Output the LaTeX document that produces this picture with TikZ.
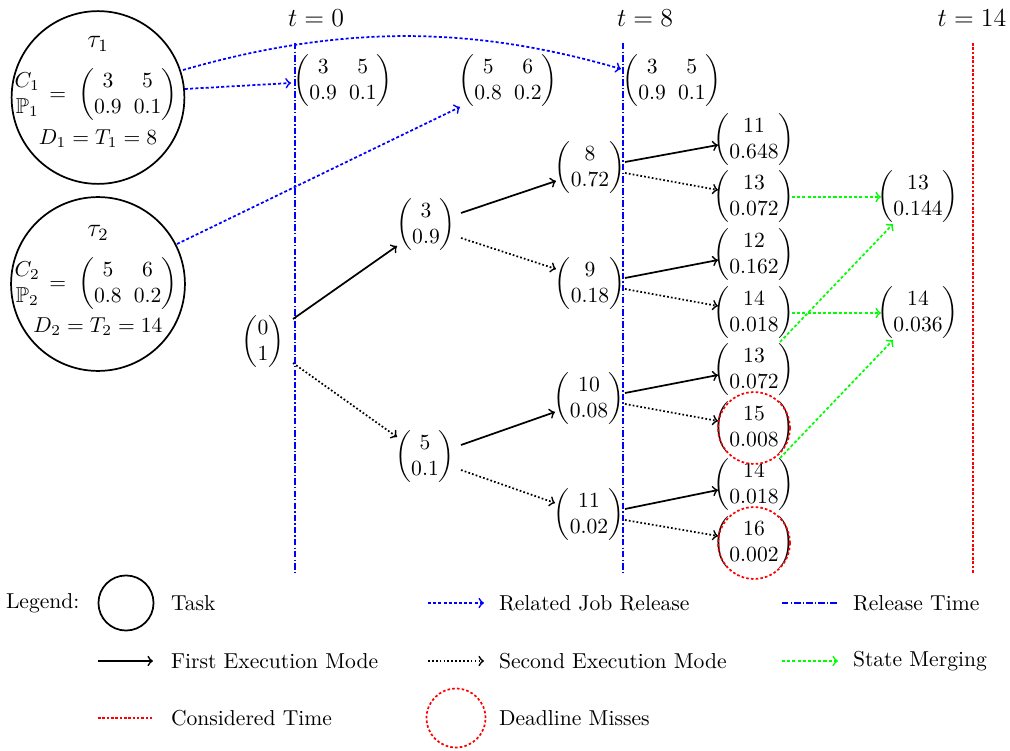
\documentclass[tikz,border=0pt]{standalone}
\usepackage{amsmath,amssymb}
\usetikzlibrary{calc}
\setlength{\arraycolsep}{2.8pt}
\newcommand\mypm[2]{$\begin{pmatrix}#1\\#2\end{pmatrix}$}
\begin{document}
\begin{tikzpicture}[x=0.463pt,y=-0.463pt,
  st/.style={inner sep=0pt, outer sep=0pt},
  txt/.style={anchor=west, inner sep=0pt, outer sep=0pt},
  first/.style={thick,->},
  second/.style={thick,densely dotted,->},
  rel/.style={thick,dash pattern=on 1.4pt off 1pt,blue,->},
  merge/.style={thick,dash pattern=on 1.4pt off 1pt,green,->},
  reltime/.style={semithick,densely dash dot,blue},
  cons/.style={thick,dash pattern=on 1.2pt off 0.8pt,red},
  task/.style={draw,thick,circle,inner sep=0pt},
  miss/.style={draw,red,thick,dash pattern=on 1.2pt off 1pt,circle,inner sep=0pt}]
\useasboundingbox (0,0) rectangle (1010,751);

% time lines
\coordinate (t0top) at (295,43); \coordinate (t0bot) at (295,573);
\coordinate (t8top) at (623,43); \coordinate (t8bot) at (623,573);
\coordinate (t14top) at (973,43); \coordinate (t14bot) at (973,573);
\draw[reltime] (t0top) -- (t0bot);
\draw[reltime] (t8top) -- (t8bot);
\draw[cons] (t14top) -- (t14bot);
\node (lt0) at (316,18) {\large $t=0$};
\node (lt8) at (645,18) {\large $t=8$};
\node (lt14) at (972,18) {\large $t=14$};

% tasks
\node[task,minimum size=80pt] (tau1) at (98,97.5) {};
\node[st] (tau1n) at (98,44) {\large $\tau_1$};
\node[st] (tau1m) at (96,95) {$\begin{matrix}C_1\\ \mathbb{P}_1\end{matrix}\,=\;\begin{pmatrix}3&5\\0.9&0.1\end{pmatrix}$};
\node[st] (tau1d) at (98,139) {$D_1=T_1=8$};

\node[task,minimum size=80.5pt] (tau2) at (98,284) {};
\node[st] (tau2n) at (98,233) {\large $\tau_2$};
\node[st] (tau2m) at (96,284) {$\begin{matrix}C_2\\ \mathbb{P}_2\end{matrix}\,=\;\begin{pmatrix}5&6\\0.8&0.2\end{pmatrix}$};
\node[st] (tau2d) at (98,327) {$D_2=T_2=14$};

% released jobs
\node[st] (m1) at (343,81) {$\begin{pmatrix}3&5\\0.9&0.1\end{pmatrix}$};
\node[st] (m2) at (508,81) {$\begin{pmatrix}5&6\\0.8&0.2\end{pmatrix}$};
\node[st] (m3) at (672,81) {$\begin{pmatrix}3&5\\0.9&0.1\end{pmatrix}$};

% tree
\node[st] (n0) at (263,342) {\mypm{0}{1}};
\node[st] (a) at (426,225) {\mypm{3}{0.9}};
\node[st] (b) at (425,457) {\mypm{5}{0.1}};
\node[st] (c1) at (590,168) {\mypm{8}{0.72}};
\node[st] (c2) at (590,284) {\mypm{9}{0.18}};
\node[st] (c3) at (589,399) {\mypm{10}{0.08}};
\node[st] (c4) at (589,515) {\mypm{11}{0.02}};
\node[st] (d1) at (754,140) {\mypm{11}{0.648}};
\node[st] (d2) at (754,197) {\mypm{13}{0.072}};
\node[st] (d3) at (754,255) {\mypm{12}{0.162}};
\node[st] (d4) at (754,313) {\mypm{14}{0.018}};
\node[st] (d5) at (754,370) {\mypm{13}{0.072}};
\node[st] (d6) at (754,428) {\mypm{15}{0.008}};
\node[st] (d7) at (754,485) {\mypm{14}{0.018}};
\node[st] (d8) at (754,543) {\mypm{16}{0.002}};
\node[st] (e1) at (918,197) {\mypm{13}{0.144}};
\node[st] (e2) at (918,313) {\mypm{14}{0.036}};
\node[miss,minimum size=33.3pt] (x1) at (d6) {};
\node[miss,minimum size=33.3pt] (x2) at (d8) {};

% edges
\draw[first] ($(n0)+(30,-23)$) -- ($(a)+(-29,21)$);
\draw[second] ($(n0)+(30,21)$) -- ($(b)+(-28,-20)$);
\draw[first] ($(a)+(35,-12)$) -- ($(c1)+(-34,13)$);
\draw[second] ($(a)+(35,13)$) -- ($(c2)+(-34,-15)$);
\draw[first] ($(b)+(36,-12)$) -- ($(c3)+(-34,13)$);
\draw[second] ($(b)+(36,13)$) -- ($(c4)+(-34,-12)$);
\draw[first] ($(c1)+(35,-6)$) -- ($(d1)+(-36,5)$);
\draw[second] ($(c1)+(35,5)$) -- ($(d2)+(-36,-7)$);
\draw[first] ($(c2)+(35,-6)$) -- ($(d3)+(-36,5)$);
\draw[second] ($(c2)+(35,5)$) -- ($(d4)+(-36,-7)$);
\draw[first] ($(c3)+(36,-6)$) -- ($(d5)+(-36,5)$);
\draw[second] ($(c3)+(36,5)$) -- ($(d6)+(-36,-7)$);
\draw[first] ($(c4)+(36,-6)$) -- ($(d7)+(-36,5)$);
\draw[second] ($(c4)+(36,5)$) -- ($(d8)+(-36,-7)$);

% merging
\draw[merge] ($(d2)+(38,0)$) -- ($(e1)+(-37,0)$);
\draw[merge] ($(d4)+(38,0)$) -- ($(e2)+(-37,0)$);
\draw[merge] ($(d5)+(26,-28)$) -- ($(e1)+(-25,27)$);
\draw[merge] ($(d7)+(26,-27)$) -- ($(e2)+(-25,27)$);

% related job releases
\draw[rel] ($(tau1)+(87,-8.5)$) -- ($(m1)+(-52,2)$);
\draw[rel] ($(tau1)+(85,-27.5)$) .. controls (340,25) and (470,25) .. ($(m3)+(-51,-12)$);
\draw[rel] ($(tau2)+(79,-40)$) -- ($(m2)+(-48,26)$);

% legend
\node[txt] (leg) at (6,603) {Legend:};
\node[task,minimum size=25.5pt] (legtask) at (126,603) {};
\node[txt] (legtasktxt) at (171,603) {Task};
\coordinate (lra) at (428,603); \coordinate (lrb) at (484,603);
\draw[rel] (lra) -- (lrb);
\node[txt] (lrtxt) at (499,603) {Related Job Release};
\coordinate (lta) at (782,603); \coordinate (ltb) at (838,603);
\draw[reltime] (lta) -- (ltb);
\node[txt] (lttxt) at (853,603) {Release Time};

\coordinate (lfa) at (98,661); \coordinate (lfb) at (153,661);
\draw[first] (lfa) -- (lfb);
\node[txt] (lftxt) at (171,661) {First Execution Mode};
\coordinate (lsa) at (428,661); \coordinate (lsb) at (484,661);
\draw[second] (lsa) -- (lsb);
\node[txt] (lstxt) at (499,661) {Second Execution Mode};
\coordinate (lma) at (782,661); \coordinate (lmb) at (838,661);
\draw[merge] (lma) -- (lmb);
\node[txt] (lmtxt) at (853,661) {State Merging};

\coordinate (lca) at (98,718); \coordinate (lcb) at (153,718);
\draw[cons] (lca) -- (lcb);
\node[txt] (lctxt) at (171,718) {Considered Time};
\node[miss,minimum size=27.3pt] (lmiss) at (456,718) {};
\node[txt] (ldtxt) at (499,718) {Deadline Misses};
\end{tikzpicture}
\end{document}
